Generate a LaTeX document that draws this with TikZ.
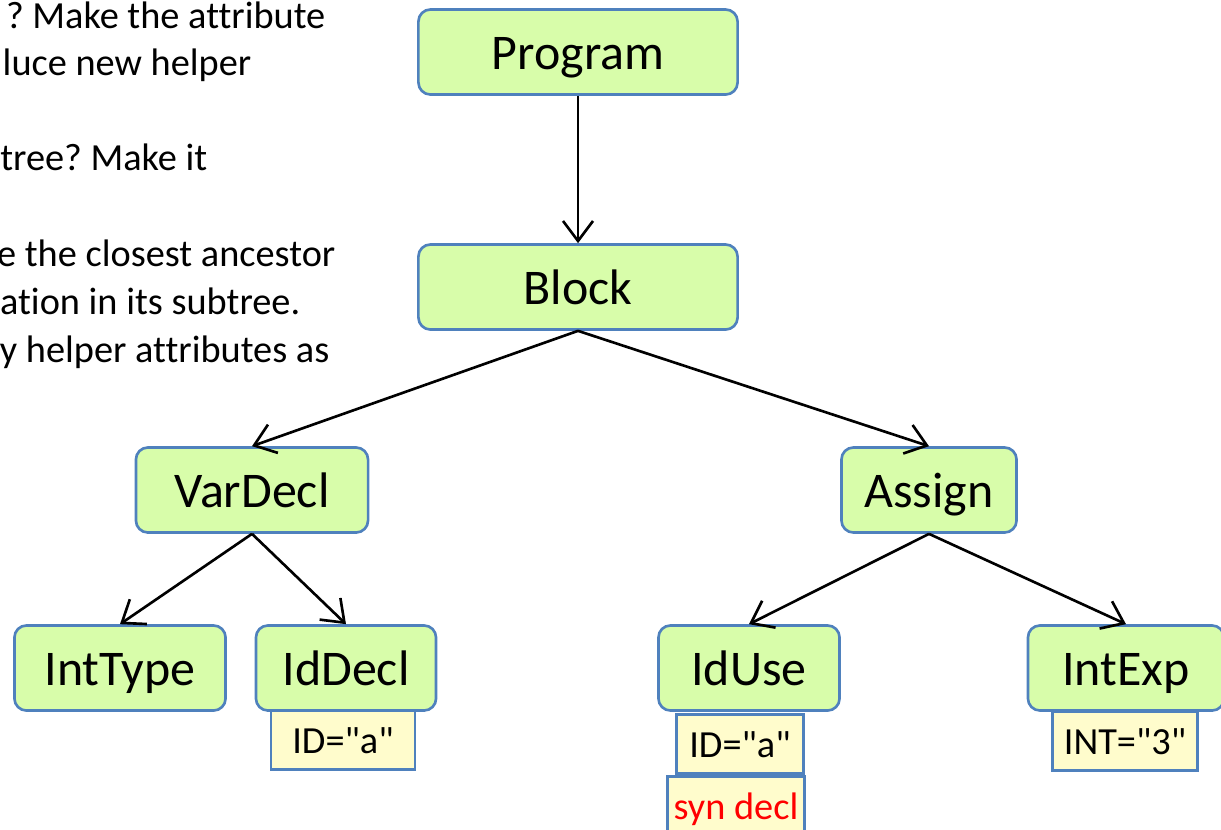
\documentclass[tikz,border=0pt]{standalone}
\usepackage{fontspec}
\setmainfont{Carlito}[Ligatures={NoCommon,NoContextual}]
\usepackage{xcolor}
\usetikzlibrary{arrows.meta}
\frenchspacing

\definecolor{nodeblue}{RGB}{79,129,189}
\definecolor{nodegreen}{RGB}{216,253,170}
\definecolor{attryellow}{RGB}{255,252,204}

\begin{document}
\begin{tikzpicture}[x=0.01cm, y=-0.01cm,
        astnode/.style={draw=nodeblue, fill=nodegreen, rounded corners=0.12cm, line width=0.75pt,
          minimum height=0.85cm, inner sep=0pt, text height=9.8pt, text depth=0pt,
          font=\fontsize{14.2}{17}\selectfont},
        attrbox/.style={draw=nodeblue, fill=attryellow, line width=0.75pt,
          minimum height=0.59cm, inner sep=0pt, text height=7.6pt, text depth=0pt,
          font=\fontsize{10.9}{13}\selectfont},
        note/.style={anchor=base east, inner sep=0pt, font=\fontsize{10.9}{13}\selectfont},
        treearrow/.style={-{Straight Barb[length=0.2cm,width=0.3cm]}, line width=0.75pt}]
        \useasboundingbox (0, 0) rectangle (1221, 829);

        % text cut off at the left
        \node[note] (n1) at (326, 28) {? Make the attribute};
        \node[note] (n2) at (252, 75) {luce new helper};
        \node[note] (n3) at (208, 170) {tree? Make it};
        \node[note] (n4) at (336, 266) {e the closest ancestor};
        \node[note] (n5) at (301, 314) {ation in its subtree.};
        \node[note] (n6) at (330, 362) {y helper attributes as};

        % tree
        \node[astnode, minimum width=3.19cm] (prog) at (578, 52) {Program};
        \node[astnode, minimum width=3.19cm] (block) at (578, 287) {Block};
        \node[astnode, minimum width=2.32cm] (vardecl) at (252, 490) {VarDecl};
        \node[astnode, minimum width=1.75cm] (assign) at (929, 490) {Assign};
        \node[astnode, minimum width=2.11cm] (inttype) at (120, 668) {IntType};
        \node[astnode, minimum width=1.80cm] (iddecl) at (346, 668) {IdDecl};
        \node[astnode, minimum width=1.81cm] (iduse) at (749, 668) {IdUse};
        \node[astnode, minimum width=1.96cm] (intexp) at (1126, 668) {IntExp};

        % attributes
        \node[attrbox, minimum width=1.44cm] (iddeclid) at (343, 740) {ID=\textquotedbl a\textquotedbl};
        \node[attrbox, minimum width=1.27cm] (iduseid) at (740, 744) {ID=\textquotedbl a\textquotedbl};
        \node[attrbox, minimum width=1.37cm, text=red] (iddeclsyn) at (736, 806) {syn decl};
        \node[attrbox, minimum width=1.45cm] (intexpint) at (1125, 741) {INT=\textquotedbl 3\textquotedbl};

        \draw[treearrow] (prog) -- (block);
        \draw[treearrow] (block.south) -- (vardecl.north);
        \draw[treearrow] (block.south) -- (assign.north);
        \draw[treearrow] (vardecl.south) -- (inttype.north);
        \draw[treearrow] (vardecl.south) -- (iddecl.north);
        \draw[treearrow] (assign.south) -- (iduse.north);
        \draw[treearrow] (assign.south) -- (intexp.north);
      \end{tikzpicture}
\end{document}
